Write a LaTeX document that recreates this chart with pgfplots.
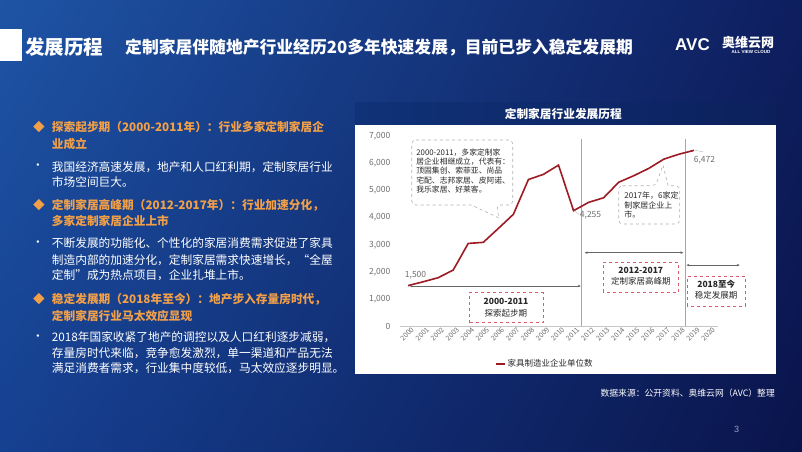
\documentclass[border=0pt]{standalone}
\usepackage{pgfplots}
\pgfplotsset{compat=1.18}
\usepackage{fontspec}
\usepackage{graphicx}
\setmainfont{Noto Sans CJK SC}
\newfontfamily\lib{Liberation Sans}
\usetikzlibrary{arrows.meta,shadings}
\definecolor{bgUL}{RGB}{30,84,165}
\definecolor{bgUR}{RGB}{14,30,95}
\definecolor{bgLL}{RGB}{22,64,145}
\definecolor{bgLR}{RGB}{10,20,75}
\definecolor{bandL}{RGB}{16,50,120}
\definecolor{bandR}{RGB}{12,32,92}
\definecolor{orng}{RGB}{242,160,72}
\definecolor{lineRed}{RGB}{158,27,35}
\definecolor{boxred}{RGB}{220,90,110}
\definecolor{tickgray}{RGB}{110,110,110}
\definecolor{txtdark}{RGB}{40,40,40}
\definecolor{pagenum}{RGB}{150,160,200}
\begin{document}
\begin{tikzpicture}[x=1pt,y=1pt]
\useasboundingbox (0,0) rectangle (802,451);
\shade[upper left=bgUL, upper right=bgUR, lower left=bgLL, lower right=bgLR] (0,0) rectangle (802,451);
% header
\fill[white] (0,451-29) rectangle (21.5,451-61);
\node[anchor=west, text=white, inner sep=0, font=\fontsize{19.5}{20}\selectfont\bfseries] at (25,451-47.5) {发展历程};
\node[anchor=west, text=white, inner sep=0, font=\fontsize{16.8}{17}\selectfont\bfseries] at (125,451-48) {定制家居伴随地产行业经历20多年快速发展，目前已步入稳定发展期};
% logo
\node[anchor=west, text=white, inner sep=0, font=\lib\fontsize{17}{17}\selectfont\bfseries] at (675,451-44.5) {AVC};
\node[anchor=west, text=white, inner sep=0, font=\fontsize{13}{13}\selectfont\bfseries] at (722,451-43) {奥维云网};
\node[anchor=west, text=white, inner sep=0, font=\lib\fontsize{4.5}{5}\selectfont\bfseries] at (731.5,451-51.8) {ALL VIEW CLOUD};
% left text
\begin{scope}[every node/.style={anchor=west, inner sep=0, font=\fontsize{11.7}{12}\selectfont}]
\node[text=orng] at (33,451-127.3) {◆};
\node[text=orng, font=\fontsize{11.7}{12}\selectfont\bfseries] at (51.7,451-127.3) {探索起步期（2000-2011年）：行业多家定制家居企};
\node[text=orng, font=\fontsize{11.7}{12}\selectfont\bfseries] at (51.7,451-144.3) {业成立};
\node[text=white] at (32,451-166.7) {•};
\node[text=white] at (51.7,451-166.7) {我国经济高速发展，地产和人口红利期，定制家居行业};
\node[text=white] at (51.7,451-181.7) {市场空间巨大。};
\node[text=orng] at (33,451-205) {◆};
\node[text=orng, font=\fontsize{11.7}{12}\selectfont\bfseries] at (51.7,451-205) {定制家居高峰期（2012-2017年）：行业加速分化，};
\node[text=orng, font=\fontsize{11.7}{12}\selectfont\bfseries] at (51.7,451-220.7) {多家定制家居企业上市};
\node[text=white] at (32,451-243.3) {•};
\node[text=white] at (51.7,451-243.3) {不断发展的功能化、个性化的家居消费需求促进了家具};
\node[text=white] at (51.7,451-260) {制造内部的加速分化，定制家居需求快速增长，“全屋};
\node[text=white] at (51.7,451-275) {定制”成为热点项目，企业扎堆上市。};
\node[text=orng] at (33,451-299.3) {◆};
\node[text=orng, font=\fontsize{11.7}{12}\selectfont\bfseries] at (51.7,451-299.3) {稳定发展期（2018年至今）：地产步入存量房时代，};
\node[text=orng, font=\fontsize{11.7}{12}\selectfont\bfseries] at (51.7,451-315.7) {定制家居行业马太效应显现};
\node[text=white] at (32,451-337.3) {•};
\node[text=white] at (51.7,451-337.3) {2018年国家收紧了地产的调控以及人口红利逐步减弱，};
\node[text=white] at (51.7,451-353.3) {存量房时代来临，竞争愈发激烈，单一渠道和产品无法};
\node[text=white] at (51.7,451-368.3) {满足消费者需求，行业集中度较低，马太效应逐步明显。};
\end{scope}
% chart panel
\shade[left color=bandL, right color=bandR] (355,451-102) rectangle (776,451-125);
\node[text=white, inner sep=0, font=\fontsize{11.7}{12}\selectfont\bfseries] at (563.3,451-114) {定制家居行业发展历程};
\fill[white] (355,451-125) rectangle (776,451-374);
% source and page
\node[anchor=east, text=white, inner sep=0, font=\fontsize{8.8}{9}\selectfont] at (775,451-393.3) {数据来源：公开资料、奥维云网（AVC）整理};
\node[text=pagenum, inner sep=0, font=\lib\fontsize{9}{9}\selectfont] at (736.7,451-429.3) {3};
\begin{axis}[
  at={(400.5pt,124.6pt)}, anchor=south west, scale only axis,
  width=316pt, height=190.4pt,
  xmin=-0.5, xmax=20.5, ymin=0, ymax=7000,
  clip=false,
  axis line style={draw=none},
  major tick length=0pt,
  xtick={0,1,...,20},
  xticklabels={2000,2001,2002,2003,2004,2005,2006,2007,2008,2009,2010,2011,2012,2013,2014,2015,2016,2017,2018,2019,2020},
  xticklabel style={rotate=45, anchor=north east, inner sep=0pt, xshift=2pt, yshift=-2pt, font=\fontsize{7}{7}\selectfont, text=tickgray},
  ytick={0,1000,...,7000},
  yticklabel style={anchor=east, inner sep=0pt, xshift=-10pt, font=\fontsize{8.5}{9}\selectfont, text=tickgray},
  /pgf/number format/1000 sep={,},
  /pgf/number format/assume math mode=true,
  legend style={at={(0.457,-0.1975)}, anchor=center, draw=none, fill=none, font=\fontsize{8.5}{9}\selectfont, text=txtdark, inner sep=0pt},
  legend image code/.code={\draw[#1] (0pt,0pt) -- (9pt,0pt);},
]
\draw[gray!45, line width=0.6pt] (-0.55,0) -- (20.6,0);
\draw[gray!70, line width=0.8pt] (11.52,0) -- (11.52,6880);
\draw[gray!70, line width=0.8pt] (18.43,0) -- (18.43,6900);
\addplot[color=lineRed, line width=1.6pt] coordinates {(0,1500)(1,1640)(2,1790)(3,2070)(4,3050)(5,3090)(6,3600)(7,4120)(8,5400)(9,5590)(10,5930)(11,4255)(12,4560)(13,4730)(14,5300)(15,5540)(16,5810)(17,6150)(18,6330)(19,6472)};
\addlegendentry{家具制造业企业单位数}
% arrows
\draw[{Stealth[length=3pt,width=2.6pt]}-{Stealth[length=3pt,width=2.6pt]}, gray!80!black, line width=0.5pt] (0.1,1485) -- (11.48,1485);
\draw[{Stealth[length=3pt,width=2.6pt]}-{Stealth[length=3pt,width=2.6pt]}, gray!80!black, line width=0.5pt] (11.74,2710) -- (18.3,2710);
\draw[{Stealth[length=3pt,width=2.6pt]}-{Stealth[length=3pt,width=2.6pt]}, gray!80!black, line width=0.5pt] (18.5,2254) -- (22.04,2254);
% red dashed boxes
\draw[boxred, dashed, line width=0.7pt] (4.07,136) rectangle (8.98,1239);
\node[inner sep=0, text=txtdark, font=\fontsize{8.5}{9}\selectfont\bfseries] at (6.51,908) {2000-2011};
\node[inner sep=0, text=txtdark, font=\fontsize{8.5}{9}\selectfont] at (6.51,482) {探索起步期};
\draw[boxred, dashed, line width=0.7pt] (12.96,1254) rectangle (17.99,2357);
\node[inner sep=0, text=txtdark, font=\fontsize{8.5}{9}\selectfont\bfseries] at (15.47,2048) {2012-2017};
\node[inner sep=0, text=txtdark, font=\fontsize{8.5}{9}\selectfont] at (15.47,1643) {定制家居高峰期};
\draw[boxred, dashed, line width=0.7pt] (18.54,750) rectangle (22.42,1827);
\node[inner sep=0, text=txtdark, font=\fontsize{8.5}{9}\selectfont\bfseries] at (20.48,1559) {2018至今};
\node[inner sep=0, text=txtdark, font=\fontsize{8.5}{9}\selectfont] at (20.48,1154) {稳定发展期};
% callouts
\draw[gray!60, dashed, line width=0.6pt, rounded corners=4pt] (0.25,6853) -- (6.96,6853) -- (6.96,4463) -- (5.87,4463) [sharp corners] -- (6.05,3985) -- (4.2,4463) [rounded corners=4pt] -- (0.25,4463) -- cycle;
\node[anchor=west, align=left, inner sep=0, text=txtdark, font=\fontsize{7.8}{9.4}\selectfont] at (0.54,5713) {2000-2011，多家定制家\\居企业相继成立，代表有：\\顶固集创、索菲亚、尚品\\宅配、志邦家居、皮阿诺、\\我乐家居、好莱客。};
\draw[gray!60, dashed, line width=0.6pt, rounded corners=4pt] (14.0,5173) -- (16.46,5173) [sharp corners] -- (16.94,5934) -- (17.28,5173) [rounded corners=4pt] -- (18.05,5173) -- (18.05,3765) -- (14.0,3765) -- cycle;
\node[anchor=west, align=left, inner sep=0, text=txtdark, font=\fontsize{8}{9.3}\selectfont] at (14.36,4460) {2017年，6家定\\制家居企业上\\市。};
% data labels
\node[anchor=west, inner sep=0, text=tickgray, font=\fontsize{8.5}{9}\selectfont] at (-0.22,1890) {1,500};
\draw[gray!60, line width=0.4pt] (11.05,4250) -- (11.37,4120);
\node[anchor=west, inner sep=0, text=tickgray, font=\fontsize{8.5}{9}\selectfont] at (11.41,4070) {4,255};
\draw[gray!60, line width=0.4pt] (19.08,6470) -- (19.6,6424);
\node[anchor=west, inner sep=0, text=tickgray, font=\fontsize{8.5}{9}\selectfont] at (18.98,6118) {6,472};
\end{axis}
\end{tikzpicture}
\end{document}
